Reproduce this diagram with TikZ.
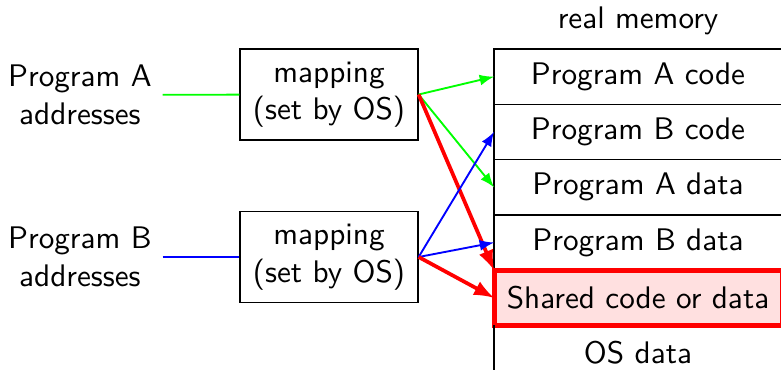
\documentclass[tikz,border=0pt]{standalone}
\usepackage{xcolor}
\usepackage{tikz}
\usetikzlibrary{shapes,arrows,positioning,calc}

\begin{document}
\begin{tikzpicture}[
    every node/.style={font=\sffamily},
    prog/.style={align=center},
    mapbox/.style={rectangle, draw, thin, minimum width=2.006cm, minimum height=1.025cm, align=center},
    memrow/.style={rectangle, draw, thin, outer sep=0pt, minimum width=3.245cm, minimum height=0.623cm},
    shared/.style={memrow, draw=red, ultra thick, fill=red!12},
    amap/.style={->, >=latex, semithick, green},
    bmap/.style={->, >=latex, semithick, blue},
    smap/.style={->, >=latex, very thick, red}
]
    \useasboundingbox (0,0) rectangle (8.8,-4.158);

    % Programs
    \node[prog] (progA) at (0.90,-1.07) {Program A\\addresses};
    \node[prog] (progB) at (0.90,-2.896) {Program B\\addresses};

    % Mappings
    \node[mapbox] (mapA) at (3.707,-1.065) {mapping\\(set by OS)};
    \node[mapbox] (mapB) at (3.707,-2.896) {mapping\\(set by OS)};

    % Memory layout
    \node[memrow] (acode) at (7.189,-0.864) {Program A code};
    \node[memrow, below=0pt of acode] (bcode) {Program B code};
    \node[memrow, below=0pt of bcode] (adata) {Program A data};
    \node[memrow, below=0pt of adata] (bdata) {Program B data};
    \node[shared, below=0pt of bdata] (shared) {Shared code or data};
    \node[memrow, draw=none, below=0pt of shared] (osdata) {OS data};
    \draw[thin] (osdata.north west) -- ($(osdata.south west)+(0,-0.3)$);
    \node[above=1pt of acode] (realmem) {real memory};

    % Address lines
    \draw[semithick, green] (progA) -- (mapA);
    \draw[semithick, blue] (progB) -- (mapB);

    % Arrows - program A
    \draw[amap] (mapA.east) -- (acode.west);
    \draw[amap] (mapA.east) -- (adata.west);
    \draw[smap] (mapA.east) -- (shared.north west);

    % Arrows - program B
    \draw[bmap] (mapB.east) -- (bcode.west);
    \draw[bmap] (mapB.east) -- (bdata.west);
    \draw[smap] (mapB.east) -- (shared.west);
\end{tikzpicture}
\end{document}
